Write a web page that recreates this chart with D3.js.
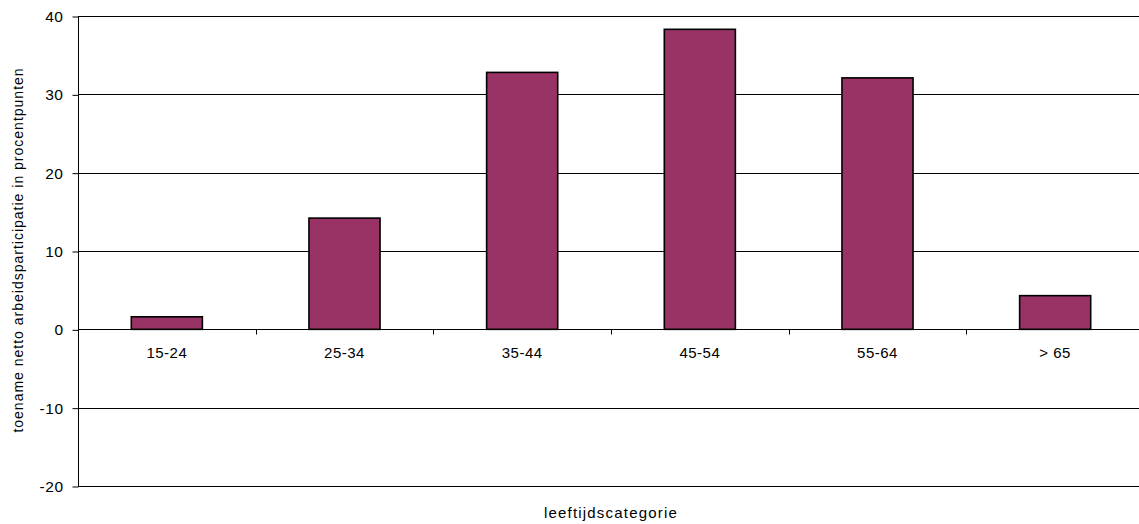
<!DOCTYPE html>
<html>
<head>
<meta charset="utf-8">
<script src="https://cdn.jsdelivr.net/npm/d3@7"></script>
<style>
  html, body { margin: 0; padding: 0; background: #fff; }
  svg { display: block; font-family: "Liberation Sans", Arial, sans-serif; }
</style>
</head>
<body>
<svg id="chart" width="1139" height="524"></svg>
<script>
const categories = ["15-24", "25-34", "35-44", "45-54", "55-64", "> 65"];
const values = [1.6, 14.2, 32.8, 38.3, 32.1, 4.3];
const yTicks = [-20, -10, 0, 10, 20, 30, 40];
const yTitle = "toename netto arbeidsparticipatie in procentpunten";
const xTitle = "leeftijdscategorie";

(function () {
const svg = d3.select("#chart");
const pLeft = 78, pRight = 1144, pTop = 16, pBottom = 486;

const x = d3.scaleBand().domain(categories).range([pLeft, pRight]).padding(0);
const y = d3.scaleLinear().domain([-20, 40]).range([pBottom, pTop]);

// gridlines
svg.append("g").selectAll("line").data(yTicks).join("line")
  .attr("x1", pLeft).attr("x2", pRight)
  .attr("y1", d => Math.round(y(d)) + 0.5).attr("y2", d => Math.round(y(d)) + 0.5)
  .attr("stroke", "#000").attr("stroke-width", 1);

// y axis
const yAxis = d3.axisLeft(y).tickValues(yTicks).tickSize(6).tickPadding(9).tickFormat(d => String(d));
const gy = svg.append("g").attr("transform", `translate(${pLeft + 0.5},0.5)`).call(yAxis);
gy.select(".domain").attr("stroke", "#000").attr("d", `M0,${y(40)}V${y(-20)}`);
gy.selectAll(".tick line").attr("stroke", "#000");
gy.selectAll(".tick text").attr("font-size", 15.5).attr("fill", "#000")
  .attr("font-family", "'Liberation Sans', Arial, sans-serif").attr("letter-spacing", "0.5px");

// bars
const bw = x.bandwidth() * 0.4;
svg.append("g").selectAll("rect").data(values).join("rect")
  .attr("x", (d, i) => x(categories[i]) + (x.bandwidth() - bw) / 2)
  .attr("width", bw)
  .attr("y", d => y(Math.max(0, d)))
  .attr("height", d => Math.abs(y(d) - y(0)))
  .attr("fill", "#993366")
  .attr("stroke", "#000")
  .attr("stroke-width", 1.6);

// x axis at zero
const xAxis = d3.axisBottom(x).tickSize(0).tickPadding(18);
const gx = svg.append("g").attr("transform", `translate(0,${Math.round(y(0)) + 0.5})`).call(xAxis);
gx.select(".domain").attr("stroke", "#000").attr("d", `M${pLeft},0H${pRight}`);
gx.selectAll(".tick text").attr("font-size", 15).attr("fill", "#000")
  .attr("font-family", "'Liberation Sans', Arial, sans-serif").attr("letter-spacing", "0.5px");
// boundary ticks
gx.append("g").selectAll("line").data(categories.slice(1)).join("line")
  .attr("x1", d => Math.round(x(d)) + 0.5).attr("x2", d => Math.round(x(d)) + 0.5)
  .attr("y1", 0).attr("y2", 5).attr("stroke", "#000");

// axis titles
svg.append("text")
  .attr("transform", `translate(23,${(68 + 432) / 2}) rotate(-90)`)
  .attr("text-anchor", "middle")
  .attr("font-size", 14)
  .attr("letter-spacing", "1px")
  .attr("fill", "#000")
  .text(yTitle);

svg.append("text")
  .attr("x", (pLeft + pRight) / 2)
  .attr("y", 518)
  .attr("text-anchor", "middle")
  .attr("font-size", 15)
  .attr("letter-spacing", "1.2px")
  .attr("fill", "#000")
  .text(xTitle);
})();
</script>
</body>
</html>
